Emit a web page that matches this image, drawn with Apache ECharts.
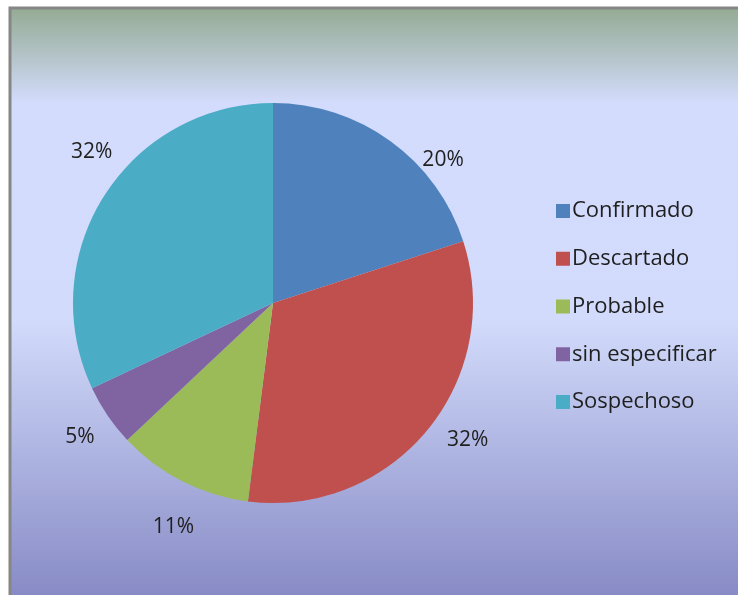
<!DOCTYPE html>
<html>
<head>
<meta charset="utf-8">
<script src="https://cdn.jsdelivr.net/npm/echarts@6/dist/echarts.min.js"></script>
<style>
  html, body { margin: 0; padding: 0; background: #ffffff; }
  #chart { width: 738px; height: 595px; }
</style>
</head>
<body>
<div id="chart"></div>
<script>
// Case classification shares (percent)
const categories = ['Confirmado', 'Descartado', 'Probable', 'sin especificar', 'Sospechoso'];
const shares = [20, 32, 11, 5, 32];
const sliceColors = ['#4f81bd', '#c0504d', '#9bbb59', '#8064a2', '#4bacc6'];

// Pie geometry and per-label placement tweaks (angle offset in degrees, distance in px)
const CX = 273, CY = 303, R = 200;
const labelAngleShift = [14, -4.5, -3, -0.6, 7.4];
const labelDist = [222, 238, 245, 235, 236];

const total = shares.reduce((a, b) => a + b, 0);
const midAngles = [];
let acc = 0;
shares.forEach(v => { midAngles.push((acc + v / 2) / total * 360); acc += v; });

const chart = echarts.init(document.getElementById('chart'));
const FONT = '"Open Sans", "Noto Sans", sans-serif';

chart.setOption({
  animation: false,
  graphic: [{
    type: 'rect',
    z: -10,
    shape: { x: 10, y: 8, width: 740, height: 600 },
    style: {
      fill: new echarts.graphic.LinearGradient(0, 0, 0, 1, [
        { offset: 0, color: '#93aa92' },
        { offset: 0.16, color: '#d3dcfc' },
        { offset: 0.52, color: '#d2dbfb' },
        { offset: 1, color: '#8487c3' }
      ]),
      stroke: '#868686',
      lineWidth: 3
    }
  }],
  legend: {
    orient: 'vertical',
    left: 551,
    top: 195,
    itemWidth: 14,
    itemHeight: 14,
    itemGap: 25.75,
    icon: 'rect',
    data: categories,
    textStyle: { fontFamily: FONT, fontSize: 22, lineHeight: 22, color: '#1f1f1f', padding: [0, 0, 0, -3] }
  },
  series: [{
    type: 'pie',
    center: [CX, CY],
    radius: R,
    startAngle: 90,
    clockwise: true,
    silent: true,
    data: categories.map((name, i) => ({ name, value: shares[i], itemStyle: { color: sliceColors[i] } })),
    label: {
      show: true,
      position: 'outside',
      formatter: '{d}%',
      fontFamily: FONT,
      fontSize: 21,
      color: '#1f1f1f'
    },
    labelLine: { show: false },
    labelLayout: function (params) {
      const i = params.dataIndex;
      const a = (midAngles[i] + labelAngleShift[i]) * Math.PI / 180;
      return {
        x: CX + labelDist[i] * Math.sin(a),
        y: CY - labelDist[i] * Math.cos(a),
        align: 'center',
        verticalAlign: 'middle'
      };
    }
  }]
});
</script>
</body>
</html>
